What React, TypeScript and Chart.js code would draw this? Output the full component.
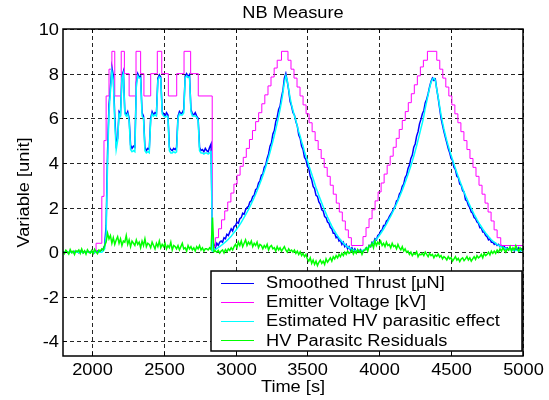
import { useEffect, useRef } from "react";
import { Chart, registerables } from "chart.js";

Chart.register(...registerables);

// Sampled signals: one value every 10 s starting at 1800 s
const sampleStart = 1800;
const sampleStep = 10;

const thrustValues = [
  0.02, -0.03, 0.05, 0.0, -0.04, 0.06, 0.01, -0.02, 0.04, 0.0,
  0.03, -0.02, 0.05, 0.01, -0.03, 0.04, 0.0, 0.02, -0.01, 0.03,
  0.0, 0.04, -0.02, 0.03, 0.05, 0.02, 0.06, 0.1, 0.15, 0.3,
  1.2, 4.5, 6.6, 7.4, 8.3, 7.9, 6.1, 4.85, 5.1, 6.3,
  6.2, 7.9, 8.1, 6.3, 6.15, 6.3, 6.0, 4.8, 4.65, 4.75,
  4.7, 7.6, 8.0, 7.85, 7.9, 6.25, 6.1, 4.7, 4.55, 4.65,
  4.6, 6.0, 6.3, 6.15, 6.25, 6.2, 7.8, 7.95, 7.85, 6.3,
  6.2, 6.1, 6.25, 6.15, 4.7, 4.6, 4.55, 4.65, 4.6, 4.7,
  6.1, 6.3, 6.2, 6.25, 6.4, 7.9, 8.0, 7.85, 7.95, 6.4,
  6.2, 6.15, 6.25, 6.1, 6.0, 4.7, 4.55, 4.6, 4.5, 4.65,
  4.55, 4.5, 4.7, 4.85, 0.25, 0.35, 0.2, 0.4, 0.3, 0.45,
  0.5, 0.45, 0.65, 0.6, 0.8, 0.75, 0.9, 1.05, 0.95, 1.15,
  1.2, 1.35, 1.3, 1.5, 1.55, 1.75, 1.7, 1.9, 2.0, 2.05,
  2.25, 2.3, 2.5, 2.55, 2.8, 2.85, 3.1, 3.2, 3.45, 3.5,
  3.8, 3.9, 4.2, 4.4, 4.75, 4.9, 5.3, 5.45, 5.85, 6.05,
  6.4, 6.55, 6.95, 7.25, 7.8, 8.0, 7.65, 7.25, 6.75, 6.55,
  6.25, 6.15, 5.85, 5.65, 5.25, 5.1, 4.75, 4.6, 4.25, 4.15,
  3.85, 3.75, 3.4, 3.25, 2.95, 2.85, 2.55, 2.5, 2.25, 2.15,
  1.9, 1.85, 1.6, 1.55, 1.35, 1.3, 1.1, 1.05, 0.85, 0.85,
  0.65, 0.7, 0.5, 0.55, 0.35, 0.45, 0.25, 0.35, 0.15, 0.25,
  0.1, 0.2, 0.05, 0.15, 0.0, 0.1, 0.05, 0.12, -0.02, 0.08,
  0.1, 0.2, 0.15, 0.3, 0.25, 0.45, 0.4, 0.6, 0.55, 0.75,
  0.8, 0.95, 1.0, 1.2, 1.2, 1.4, 1.45, 1.6, 1.7, 1.8,
  1.95, 2.05, 2.3, 2.35, 2.6, 2.7, 2.95, 3.05, 3.35, 3.45,
  3.75, 3.9, 4.2, 4.35, 4.7, 4.85, 5.2, 5.4, 5.75, 5.95,
  6.2, 6.35, 6.7, 6.85, 7.1, 7.4, 7.65, 7.8, 7.7, 7.75,
  7.3, 6.9, 6.45, 6.0, 5.7, 5.4, 5.15, 4.9, 4.65, 4.45,
  4.2, 4.1, 3.8, 3.7, 3.4, 3.35, 3.05, 3.0, 2.75, 2.7,
  2.35, 2.3, 2.1, 2.0, 1.8, 1.75, 1.55, 1.5, 1.35, 1.3,
  1.1, 1.1, 0.9, 0.9, 0.75, 0.7, 0.55, 0.6, 0.45, 0.45,
  0.35, 0.4, 0.3, 0.35, 0.25, 0.3, 0.2, 0.25, 0.15, 0.2,
  0.1, 0.2, 0.1, 0.15, 0.05, 0.15, 0.1, 0.2, 0.05, 0.15, 0.1,
];

const estimateValues = [
  0, 0, 0, 0, 0, 0, 0, 0, 0, 0,
  0, 0, 0, 0, 0, 0, 0, 0, 0, 0,
  0, 0, 0, 0, 0, 0, 0, 0, 0.05, 0.15,
  0.8, 4.0, 6.3, 7.2, 8.1, 7.7, 5.8, 4.6, 5.0, 6.2,
  6.1, 7.8, 8.0, 6.2, 6.1, 6.2, 5.9, 4.6, 4.5, 4.55,
  4.5, 7.4, 7.9, 7.8, 7.8, 6.1, 6.0, 4.55, 4.45, 4.5,
  4.45, 5.9, 6.2, 6.1, 6.15, 6.1, 7.7, 7.85, 7.8, 6.2,
  6.1, 6.05, 6.1, 6.05, 4.55, 4.45, 4.45, 4.5, 4.45, 4.5,
  6.0, 6.2, 6.15, 6.15, 6.25, 7.8, 7.9, 7.85, 7.85, 6.3,
  6.1, 6.1, 6.1, 6.05, 5.9, 4.55, 4.45, 4.45, 4.4, 4.45,
  4.45, 4.4, 4.45, 4.5, 0.05, 0.08, 0.12, 0.16, 0.2, 0.25,
  0.3, 0.35, 0.4, 0.46, 0.52, 0.58, 0.65, 0.72, 0.8, 0.88,
  0.96, 1.05, 1.14, 1.24, 1.34, 1.45, 1.56, 1.67, 1.79, 1.91,
  2.04, 2.17, 2.31, 2.45, 2.6, 2.75, 2.91, 3.08, 3.25, 3.43,
  3.62, 3.82, 4.03, 4.25, 4.48, 4.72, 4.97, 5.23, 5.5, 5.78,
  6.08, 6.4, 6.75, 7.15, 7.6, 7.9, 7.7, 7.3, 6.9, 6.6,
  6.35, 6.1, 5.9, 5.65, 5.4, 5.2, 4.95, 4.75, 4.5, 4.3,
  4.1, 3.9, 3.7, 3.5, 3.3, 3.1, 2.9, 2.72, 2.54, 2.37,
  2.2, 2.04, 1.88, 1.73, 1.58, 1.44, 1.3, 1.17, 1.05, 0.94,
  0.83, 0.73, 0.64, 0.56, 0.48, 0.41, 0.35, 0.29, 0.24, 0.2,
  0.16, 0.13, 0.1, 0.08, 0.06, 0.05, 0.05, 0.06, 0.07, 0.09,
  0.12, 0.15, 0.19, 0.24, 0.3, 0.36, 0.43, 0.5, 0.58, 0.66,
  0.75, 0.84, 0.94, 1.04, 1.15, 1.26, 1.38, 1.5, 1.62, 1.75,
  1.88, 2.02, 2.16, 2.31, 2.46, 2.62, 2.78, 2.95, 3.12, 3.3,
  3.48, 3.67, 3.87, 4.08, 4.3, 4.53, 4.77, 5.02, 5.28, 5.55,
  5.8, 6.1, 6.45, 6.75, 7.05, 7.35, 7.6, 7.75, 7.8, 7.7,
  7.3, 6.95, 6.55, 6.15, 5.82, 5.52, 5.25, 5.0, 4.77, 4.55,
  4.34, 4.14, 3.94, 3.75, 3.56, 3.38, 3.2, 3.03, 2.86, 2.7,
  2.54, 2.39, 2.24, 2.1, 1.96, 1.83, 1.7, 1.58, 1.46, 1.35,
  1.24, 1.14, 1.04, 0.95, 0.86, 0.78, 0.7, 0.63, 0.56, 0.5,
  0.45, 0.4, 0.35, 0.31, 0.27, 0.24, 0.21, 0.19, 0.17, 0.15,
  0.13, 0.12, 0.11, 0.1, 0.09, 0.09, 0.08, 0.08, 0.07, 0.07, 0.07,
];

const residualValues = [
  0.04, -0.06, 0.09, 0.01, -0.08, 0.12, -0.02, 0.05, -0.1, 0.07,
  0.02, 0.1, -0.05, 0.14, -0.03, 0.06, -0.09, 0.11, 0.0, -0.04,
  0.08, -0.06, 0.13, 0.02, -0.07, 0.1, 0.05, 0.15, 0.1, 0.3,
  0.45, 0.85, 0.6, 0.75, 0.4, 0.65, 0.35, 0.55, 0.7, 0.4,
  0.6, 0.3, 0.5, 0.45, 0.75, 0.35, 0.55, 0.25, 0.5, 0.4,
  0.3, 0.55, 0.35, 0.45, 0.2, 0.5, 0.3, 0.6, 0.25, 0.4,
  0.35, 0.2, 0.45, 0.3, 0.15, 0.4, 0.25, 0.5, 0.2, 0.35,
  0.25, 0.4, 0.15, 0.3, 0.2, 0.45, 0.1, 0.3, 0.25, 0.15,
  0.3, 0.1, 0.25, 0.4, 0.15, 0.2, 0.05, 0.3, 0.15, 0.25,
  0.1, 0.2, 0.05, 0.25, 0.15, 0.3, 0.1, 0.2, 0.05, 0.15,
  0.15, 0.1, 0.2, 0.12, 1.55, 0.02, 0.06, 0.0, 0.08, -0.04,
  0.05, 0.1, -0.03, 0.12, 0.02, 0.15, 0.08, 0.2, 0.1, 0.25,
  0.35, 0.2, 0.45, 0.3, 0.5, 0.25, 0.4, 0.55, 0.3, 0.45,
  0.35, 0.5, 0.25, 0.4, 0.3, 0.45, 0.2, 0.35, 0.3, 0.15,
  0.3, 0.2, 0.35, 0.1, 0.25, 0.3, 0.15, 0.2, 0.05, 0.25,
  0.1, 0.2, 0.05, 0.15, 0.25, 0.1, 0.0, 0.15, 0.05, 0.1,
  0.0, 0.1, -0.05, 0.05, -0.1, 0.02, -0.15, -0.05, -0.2, -0.1,
  -0.3, -0.4, -0.25, -0.5, -0.35, -0.55, -0.4, -0.6, -0.45, -0.35,
  -0.5, -0.4, -0.55, -0.3, -0.45, -0.35, -0.25, -0.4, -0.2, -0.3,
  -0.15, -0.25, -0.1, -0.2, -0.05, -0.15, 0.0, -0.1, 0.05, -0.05,
  0.0, 0.1, -0.08, 0.05, -0.05, 0.12, 0.0, 0.08, -0.1, 0.05,
  0.1, 0.2, 0.05, 0.3, 0.25, 0.4, 0.2, 0.5, 0.3, 0.45,
  0.35, 0.5, 0.3, 0.4, 0.25, 0.45, 0.3, 0.35, 0.2, 0.4,
  0.25, 0.3, 0.15, 0.35, 0.2, 0.1, 0.25, 0.05, 0.15, 0.0,
  0.05, -0.1, 0.0, -0.15, -0.05, -0.1, 0.02, -0.2, -0.08, -0.12,
  -0.05, -0.15, 0.0, -0.1, -0.2, -0.05, -0.15, -0.1, -0.25, -0.12,
  -0.18, -0.08, -0.22, -0.15, -0.3, -0.2, -0.25, -0.35, -0.2, -0.3,
  -0.25, -0.4, -0.3, -0.2, -0.35, -0.28, -0.42, -0.3, -0.25, -0.38,
  -0.3, -0.2, -0.35, -0.25, -0.4, -0.3, -0.2, -0.32, -0.15, -0.25,
  -0.2, -0.1, -0.25, -0.05, -0.15, -0.1, 0.0, -0.12, 0.05, -0.05,
  0.05, -0.05, 0.1, 0.0, 0.15, 0.05, 0.2, 0.1, 0.0, 0.15,
  0.1, 0.25, 0.05, 0.2, 0.1, 0.3, 0.15, 0.05, 0.2, 0.1, 0.15,
];

// Emitter voltage set-points: each level holds until the next change time
const voltageTimes = [
  1800, 2030, 2070, 2085, 2100, 2120, 2140, 2160, 2205, 2227, 2260, 2308, 2340, 2363,
  2410, 2456, 2487, 2533, 2591, 2642, 2688, 2741, 2838,
  2860, 2882, 2903, 2925, 2946, 2968, 2989, 3011, 3032, 3054, 3075, 3097, 3118, 3140,
  3161, 3183, 3204, 3226, 3247, 3269, 3290, 3320,
  3365, 3386, 3407, 3428, 3449, 3470, 3491, 3512, 3533, 3554, 3575, 3596, 3617, 3638,
  3659, 3680, 3701, 3722, 3743, 3764, 3785, 3806,
  3887, 3908, 3929, 3950, 3971, 3992, 4013, 4034, 4055, 4076, 4097, 4118, 4139, 4160,
  4181, 4202, 4223, 4244, 4265, 4286, 4307, 4335,
  4400, 4421, 4442, 4463, 4484, 4505, 4526, 4547, 4568, 4589, 4610, 4631, 4652, 4673,
  4694, 4715, 4736, 4757, 4778, 4799, 4820, 4845, 5000,
];
const voltageLevels = [
  0, 0.4, 2.5, 5, 7, 8.2, 9, 7, 9, 8, 7, 9, 8, 7,
  8, 9, 8, 7, 8, 9, 8, 7, 0.25,
  0.65, 1.05, 1.45, 1.85, 2.25, 2.65, 3.05, 3.45, 3.85, 4.25, 4.65, 5.05, 5.45, 5.85,
  6.25, 6.65, 7.05, 7.45, 7.85, 8.25, 8.6, 9.0,
  8.6, 8.2, 7.8, 7.4, 7.0, 6.6, 6.2, 5.8, 5.4, 5.0, 4.6, 4.2, 3.8, 3.4,
  3.0, 2.6, 2.2, 1.8, 1.4, 1.0, 0.65, 0.3,
  0.7, 1.1, 1.5, 1.9, 2.3, 2.7, 3.1, 3.5, 3.9, 4.3, 4.7, 5.1, 5.5, 5.9,
  6.3, 6.7, 7.1, 7.5, 7.9, 8.3, 8.6, 9.0,
  8.6, 8.2, 7.8, 7.4, 7.0, 6.6, 6.2, 5.8, 5.4, 5.0, 4.6, 4.2, 3.8, 3.4,
  3.0, 2.6, 2.2, 1.8, 1.4, 1.0, 0.65, 0.3, 0.3,
];

const xTickValues = [2000, 2500, 3000, 3500, 4000, 4500, 5000];
const yTickValues = [-4, -2, 0, 2, 4, 6, 8, 10];
const xRange = [1800, 5000];
const yRange = [-4.65, 10];

const chartTitle = "NB Measure";
const xAxisTitle = "Time [s]";
const yAxisTitle = "Variable [unit]";
const seriesLabels = [
  "Smoothed Thrust [\u03bcN]",
  "Emitter Voltage [kV]",
  "Estimated HV parasitic effect",
  "HV Parasitc Residuals",
];
const seriesColors = ["#0000ff", "#ff00ff", "#00ffff", "#00ff00"];

const FONT_FAMILY = "'Liberation Sans', Arial, Helvetica, sans-serif";
const FONT = `16px ${FONT_FAMILY}`;
const TEXT_STRETCH = 1.14;

function sampled(values: number[]) {
  return values.map((v, i) => ({ x: sampleStart + i * sampleStep, y: v }));
}

function drawText(
  ctx: CanvasRenderingContext2D,
  text: string,
  x: number,
  y: number,
  align: CanvasTextAlign,
  baseline: CanvasTextBaseline,
  rotate = false
) {
  ctx.save();
  ctx.translate(x, y);
  if (rotate) ctx.rotate(-Math.PI / 2);
  ctx.scale(TEXT_STRETCH, 1);
  ctx.font = FONT;
  ctx.fillStyle = "#000";
  ctx.textAlign = align;
  ctx.textBaseline = baseline;
  ctx.fillText(text, 0, 0);
  ctx.restore();
}

// Dashed grid behind the traces
const gridPlugin = {
  id: "dashedGrid",
  beforeDatasetsDraw(chart: any) {
    const { ctx, chartArea, scales } = chart;
    const { left, right, top, bottom } = chartArea;
    ctx.save();
    ctx.strokeStyle = "rgba(0,0,0,0.85)";
    ctx.lineWidth = 1;
    ctx.setLineDash([4, 3]);
    for (const v of xTickValues) {
      const px = Math.round(scales.x.getPixelForValue(v)) + 0.5;
      ctx.beginPath();
      ctx.moveTo(px, top);
      ctx.lineTo(px, bottom);
      ctx.stroke();
    }
    for (const v of yTickValues) {
      const py = Math.round(scales.y.getPixelForValue(v)) + 0.5;
      ctx.beginPath();
      ctx.moveTo(left, py);
      ctx.lineTo(right, py);
      ctx.stroke();
    }
    ctx.restore();
  },
};

// Box, inner tick marks, labels, titles and legend on top
const framePlugin = {
  id: "frameAndLabels",
  afterDatasetsDraw(chart: any) {
    const { ctx, chartArea, scales } = chart;
    const { left, right, top, bottom } = chartArea;
    ctx.save();
    ctx.setLineDash([]);
    ctx.strokeStyle = "#000";
    ctx.lineWidth = 1.5;
    ctx.strokeRect(left, top, right - left, bottom - top);

    ctx.lineWidth = 1;
    const tickLen = 4;
    for (const v of xTickValues) {
      const px = Math.round(scales.x.getPixelForValue(v)) + 0.5;
      ctx.beginPath();
      ctx.moveTo(px, bottom);
      ctx.lineTo(px, bottom - tickLen);
      ctx.moveTo(px, top);
      ctx.lineTo(px, top + tickLen);
      ctx.stroke();
      drawText(ctx, String(v), px, 375, "center", "alphabetic");
    }
    for (const v of yTickValues) {
      const py = Math.round(scales.y.getPixelForValue(v)) + 0.5;
      ctx.beginPath();
      ctx.moveTo(left, py);
      ctx.lineTo(left + tickLen, py);
      ctx.moveTo(right, py);
      ctx.lineTo(right - tickLen, py);
      ctx.stroke();
      drawText(ctx, String(v), left - 4, py + 1, "right", "middle");
    }

    const cx = (left + right) / 2;
    drawText(ctx, chartTitle, cx, 18, "center", "alphabetic");
    drawText(ctx, xAxisTitle, cx, 392, "center", "alphabetic");
    drawText(ctx, yAxisTitle, 29, (top + bottom) / 2, "center", "alphabetic", true);

    // Legend box
    const lx = 211;
    const ly = 271;
    const lw = 311;
    const lh = 80;
    ctx.fillStyle = "#fff";
    ctx.fillRect(lx, ly, lw, lh);
    ctx.strokeStyle = "#000";
    ctx.lineWidth = 1.5;
    ctx.strokeRect(lx, ly, lw, lh);
    seriesLabels.forEach((label, i) => {
      const rowY = 282.5 + i * 19.2;
      ctx.strokeStyle = seriesColors[i];
      ctx.lineWidth = 1;
      ctx.beginPath();
      ctx.moveTo(221, Math.round(rowY) + 0.5);
      ctx.lineTo(254, Math.round(rowY) + 0.5);
      ctx.stroke();
      drawText(ctx, label, 266, rowY + 1, "left", "middle");
    });
    ctx.restore();
  },
};

export default function App() {
  const canvasRef = useRef<HTMLCanvasElement | null>(null);

  useEffect(() => {
    const canvas = canvasRef.current;
    if (!canvas) return;
    const chart = new Chart(canvas, {
      type: "line",
      data: {
        datasets: [
          {
            label: seriesLabels[0],
            data: sampled(thrustValues),
            borderColor: seriesColors[0],
            borderWidth: 1.5,
            order: 4,
          },
          {
            label: seriesLabels[1],
            data: voltageTimes.map((t, i) => ({ x: t, y: voltageLevels[i] })),
            borderColor: seriesColors[1],
            borderWidth: 1,
            stepped: true,
            order: 3,
          },
          {
            label: seriesLabels[2],
            data: sampled(estimateValues),
            borderColor: seriesColors[2],
            borderWidth: 1.5,
            order: 2,
          },
          {
            label: seriesLabels[3],
            data: sampled(residualValues),
            borderColor: seriesColors[3],
            borderWidth: 1.5,
            order: 1,
          },
        ],
      },
      options: {
        responsive: false,
        animation: false,
        devicePixelRatio: 1,
        events: [],
        layout: { padding: { left: 0, right: 26, top: 29, bottom: 0 } },
        elements: {
          point: { radius: 0 },
          line: { tension: 0, fill: false },
        },
        plugins: {
          legend: { display: false },
          title: { display: false },
          tooltip: { enabled: false },
        },
        scales: {
          x: {
            type: "linear",
            min: xRange[0],
            max: xRange[1],
            afterBuildTicks: (s: any) => {
              s.ticks = xTickValues.map((value) => ({ value }));
            },
            afterFit: (s: any) => {
              s.height = 44;
            },
            ticks: { display: false },
            grid: { display: false },
            border: { display: false },
          },
          y: {
            type: "linear",
            min: yRange[0],
            max: yRange[1],
            afterBuildTicks: (s: any) => {
              s.ticks = yTickValues.map((value) => ({ value }));
            },
            afterFit: (s: any) => {
              s.width = 63;
            },
            ticks: { display: false },
            grid: { display: false },
            border: { display: false },
          },
        },
      },
      plugins: [gridPlugin, framePlugin],
    });
    return () => chart.destroy();
  }, []);

  return (
    <div
      style={{
        position: "fixed",
        left: 0,
        top: 0,
        width: 549,
        height: 400,
        background: "#fff",
      }}
    >
      <canvas ref={canvasRef} width={549} height={400} style={{ display: "block" }} />
    </div>
  );
}
